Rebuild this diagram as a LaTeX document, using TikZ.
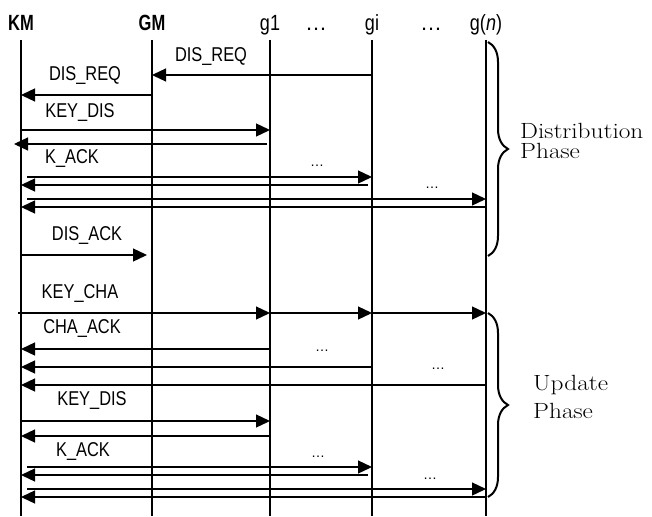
\documentclass[tikz,border=0pt]{standalone}
\usepackage{fontspec}
\usepackage{graphicx}
\setsansfont{Liberation Sans}
\usetikzlibrary{arrows.meta,decorations.pathreplacing}
\newcommand{\cnd}[1]{\scalebox{0.82}[1]{#1}}
\newcommand{\wde}[1]{\scalebox{1.15}[1]{#1}}
\begin{document}
\begin{tikzpicture}[x=1pt,y=-1pt,
  head/.style={font=\sffamily\fontsize{22}{24}\selectfont, anchor=base, inner sep=0pt},
  bhead/.style={head, font=\sffamily\bfseries\fontsize{22}{24}\selectfont},
  lbl/.style={font=\sffamily\fontsize{20}{22}\selectfont, inner sep=0pt},
  dotlbl/.style={font=\sffamily\fontsize{14}{14}\selectfont, inner sep=0pt},
  life/.style={line width=1.3pt},
  msg/.style={line width=1.3pt, -{Triangle[length=14pt,width=13pt]}},
  brc/.style={decorate, decoration={brace, amplitude=20pt}, line width=2pt},
  phase/.style={font=\rmfamily\fontsize{22}{24}\selectfont, anchor=base west, inner sep=0pt}]
\useasboundingbox (0,0) rectangle (652,516);
% heads
\node[bhead] (KM) at (21,31) {\scalebox{0.75}[1]{KM}};
\node[bhead] (GM) at (152,31) {\scalebox{0.75}[1]{GM}};
\node[head] (g1) at (270,31) {\cnd{g1}};
\node[head] (hd1) at (316,31) {\ldots};
\node[head] (gi) at (372,31) {\cnd{gi}};
\node[head] (hd2) at (431,31) {\ldots};
\node[head] (gn) at (486,31) {\cnd{g(\textit{n})}};
% lifelines
\foreach \n in {KM,GM,g1,gi,gn} \draw[life] (\n |- 0,40) -- (\n |- 0,516);
% distribution phase
\draw[msg] (gi |- 0,75) -- (GM |- 0,75);
\node[lbl] (l1) at (211,57) {\cnd{DIS\_REQ}};
\draw[msg] (GM |- 0,95) -- (KM |- 0,95);
\node[lbl] (l2) at (85,76) {\cnd{DIS\_REQ}};
\draw[msg] (KM |- 0,130) -- (g1 |- 0,130);
\node[lbl] (l3) at (80,113) {\cnd{KEY\_DIS}};
\draw[msg] ([xshift=-3pt]g1 |- 0,144) -- ([xshift=-7pt]KM |- 0,144);
\node[lbl] (l4) at (72,159) {\cnd{K\_ACK}};
\draw[msg] ([xshift=6pt]KM |- 0,177) -- (gi |- 0,177);
\draw[msg] ([xshift=-4pt]gi |- 0,185) -- (KM |- 0,185);
\node[dotlbl] (d1) at (317,166) {\ldots};
\draw[msg] ([xshift=6pt]KM |- 0,199) -- (gn |- 0,199);
\draw[msg] (gn |- 0,207) -- (KM |- 0,207);
\node[dotlbl] (d2) at (432,188) {\ldots};
\draw[msg] ([xshift=1pt]KM |- 0,255) -- ([xshift=-5pt]GM |- 0,255);
\node[lbl] (l5) at (87,236) {\cnd{DIS\_ACK}};
% update phase
\node[lbl] (l6) at (80,294) {\cnd{KEY\_CHA}};
\draw[msg] ([xshift=-3pt]KM |- 0,313) -- (g1 |- 0,313);
\draw[msg] (g1 |- 0,313) -- (gi |- 0,313);
\draw[msg] (gi |- 0,313) -- (gn |- 0,313);
\node[lbl] (l7) at (82,329) {\cnd{CHA\_ACK}};
\draw[msg] (g1 |- 0,349) -- (KM |- 0,349);
\draw[msg] (gi |- 0,367) -- (KM |- 0,367);
\draw[msg] (gn |- 0,385) -- (KM |- 0,385);
\node[dotlbl] (d3) at (322,351) {\ldots};
\node[dotlbl] (d4) at (438,369) {\ldots};
\node[lbl] (l8) at (92,400) {\cnd{KEY\_DIS}};
\draw[msg] (KM |- 0,421) -- (g1 |- 0,421);
\draw[msg] (g1 |- 0,436) -- (KM |- 0,436);
\node[lbl] (l9) at (83,451) {\cnd{K\_ACK}};
\draw[msg] ([xshift=6pt]KM |- 0,467) -- (gi |- 0,467);
\draw[msg] ([xshift=-4pt]gi |- 0,475) -- (KM |- 0,475);
\node[dotlbl] (d5) at (318,457) {\ldots};
\draw[msg] ([xshift=6pt]KM |- 0,489) -- (gn |- 0,489);
\draw[msg] (gn |- 0,497) -- (KM |- 0,497);
\node[dotlbl] (d6) at (430,479) {\ldots};
% braces
\draw[brc] ([xshift=2pt]gn |- 0,42) -- ([xshift=2pt]gn |- 0,256);
\node[phase] (p1a) at (520,138) {\wde{Distribution}};
\node[phase] (p1b) at (520,158) {\wde{Phase}};
\draw[brc] ([xshift=2pt]gn |- 0,313) -- ([xshift=2pt]gn |- 0,497);
\node[phase] (p2a) at (533,390) {\wde{Update}};
\node[phase] (p2b) at (533,418) {\wde{Phase}};
\end{tikzpicture}
\end{document}
